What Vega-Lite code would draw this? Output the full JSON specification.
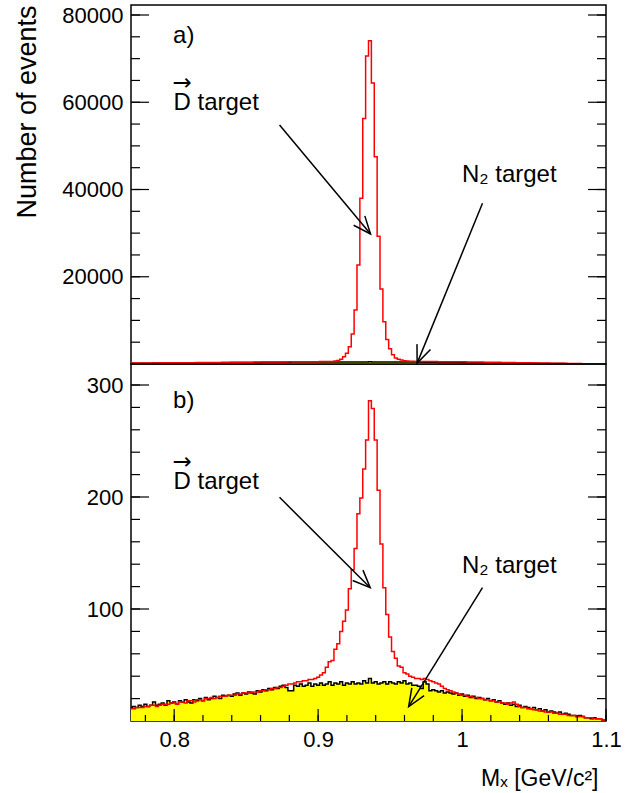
{
 "$schema": "https://vega.github.io/schema/vega-lite/v6.json",
 "padding": {"left": 12, "top": 3, "right": 5, "bottom": 0},
 "bounds": "flush",
 "spacing": 0,
 "config": {
  "view": {"stroke": "#000000", "strokeWidth": 1.5},
  "font": "Liberation Sans",
  "axis": {"grid": false, "domain": false, "labelFont": "Liberation Sans", "labelColor": "#000000", "labelFontSize": 22, "tickColor": "#000000", "titleFont": "Liberation Sans", "titleFontWeight": "normal", "titleColor": "#000000", "labelOverlap": false, "labelFlush": false}
 },
 "datasets": {
  "h": [
   {"x":0.769,"by":12,"br":11,"ty":180,"tr":230},{"x":0.771,"by":13,"br":11,"ty":185,"tr":230},{"x":0.773,"by":12,"br":12,"ty":175,"tr":235},{"x":0.775,"by":14,"br":12,"ty":190,"tr":230},{"x":0.777,"by":13,"br":12,"ty":180,"tr":240},
   {"x":0.779,"by":15,"br":13,"ty":195,"tr":235},{"x":0.781,"by":13,"br":13,"ty":200,"tr":245},{"x":0.783,"by":14,"br":14,"ty":195,"tr":250},{"x":0.785,"by":17,"br":14,"ty":210,"tr":250},{"x":0.787,"by":14,"br":13,"ty":200,"tr":255},
   {"x":0.789,"by":15,"br":14,"ty":205,"tr":260},{"x":0.791,"by":16,"br":15,"ty":220,"tr":265},{"x":0.793,"by":14,"br":15,"ty":215,"tr":270},{"x":0.795,"by":18,"br":15,"ty":230,"tr":270},{"x":0.797,"by":16,"br":16,"ty":220,"tr":275},
   {"x":0.799,"by":17,"br":16,"ty":225,"tr":280},{"x":0.801,"by":15,"br":15,"ty":240,"tr":285},{"x":0.803,"by":18,"br":17,"ty":245,"tr":290},{"x":0.805,"by":17,"br":17,"ty":235,"tr":295},{"x":0.807,"by":19,"br":16,"ty":250,"tr":300},
   {"x":0.809,"by":17,"br":18,"ty":240,"tr":305},{"x":0.811,"by":16,"br":18,"ty":260,"tr":310},{"x":0.813,"by":19,"br":17,"ty":255,"tr":315},{"x":0.815,"by":18,"br":19,"ty":265,"tr":320},{"x":0.817,"by":20,"br":19,"ty":260,"tr":325},
   {"x":0.819,"by":18,"br":18,"ty":270,"tr":330},{"x":0.821,"by":21,"br":20,"ty":280,"tr":340},{"x":0.823,"by":19,"br":20,"ty":285,"tr":345},{"x":0.825,"by":20,"br":21,"ty":275,"tr":350},{"x":0.827,"by":22,"br":20,"ty":290,"tr":355},
   {"x":0.829,"by":21,"br":21,"ty":285,"tr":360},{"x":0.831,"by":20,"br":22,"ty":310,"tr":370},{"x":0.833,"by":23,"br":22,"ty":305,"tr":375},{"x":0.835,"by":22,"br":22,"ty":315,"tr":380},{"x":0.837,"by":23,"br":23,"ty":310,"tr":385},
   {"x":0.839,"by":22,"br":23,"ty":320,"tr":390},{"x":0.841,"by":24,"br":23,"ty":330,"tr":395},{"x":0.843,"by":25,"br":24,"ty":335,"tr":400},{"x":0.845,"by":23,"br":24,"ty":325,"tr":405},{"x":0.847,"by":25,"br":25,"ty":340,"tr":410},
   {"x":0.849,"by":24,"br":25,"ty":335,"tr":415},{"x":0.851,"by":26,"br":25,"ty":360,"tr":420},{"x":0.853,"by":25,"br":26,"ty":355,"tr":425},{"x":0.855,"by":24,"br":26,"ty":365,"tr":430},{"x":0.857,"by":27,"br":26,"ty":360,"tr":435},
   {"x":0.859,"by":26,"br":27,"ty":370,"tr":440},{"x":0.861,"by":28,"br":27,"ty":390,"tr":445},{"x":0.863,"by":27,"br":28,"ty":385,"tr":450},{"x":0.865,"by":29,"br":28,"ty":395,"tr":455},{"x":0.867,"by":28,"br":29,"ty":390,"tr":460},
   {"x":0.869,"by":30,"br":29,"ty":400,"tr":465},{"x":0.871,"by":29,"br":30,"ty":420,"tr":470},{"x":0.873,"by":31,"br":30,"ty":415,"tr":475},{"x":0.875,"by":32,"br":31,"ty":425,"tr":480},{"x":0.877,"by":30,"br":32,"ty":420,"tr":485},
   {"x":0.879,"by":27,"br":33,"ty":410,"tr":490},{"x":0.881,"by":27,"br":33,"ty":430,"tr":495},{"x":0.883,"by":32,"br":34,"ty":435,"tr":500},{"x":0.885,"by":31,"br":35,"ty":430,"tr":505},{"x":0.887,"by":33,"br":35,"ty":440,"tr":510},
   {"x":0.889,"by":31,"br":36,"ty":435,"tr":515},{"x":0.891,"by":32,"br":36,"ty":450,"tr":520},{"x":0.893,"by":34,"br":37,"ty":455,"tr":525},{"x":0.895,"by":31,"br":37,"ty":445,"tr":530},{"x":0.897,"by":33,"br":38,"ty":455,"tr":535},
   {"x":0.899,"by":32,"br":39,"ty":450,"tr":540},{"x":0.901,"by":34,"br":41,"ty":470,"tr":545},{"x":0.903,"by":32,"br":43,"ty":465,"tr":550},{"x":0.905,"by":33,"br":48,"ty":475,"tr":560},{"x":0.907,"by":35,"br":53,"ty":470,"tr":575},
   {"x":0.909,"by":32,"br":54,"ty":475,"tr":600},{"x":0.911,"by":34,"br":64,"ty":470,"tr":680},{"x":0.913,"by":33,"br":69,"ty":480,"tr":790},{"x":0.915,"by":35,"br":80,"ty":470,"tr":1070},{"x":0.917,"by":32,"br":89,"ty":475,"tr":1680},
   {"x":0.919,"by":34,"br":99,"ty":470,"tr":2440},{"x":0.921,"by":33,"br":118,"ty":480,"tr":3970},{"x":0.923,"by":35,"br":135,"ty":470,"tr":6900},{"x":0.925,"by":33,"br":154,"ty":475,"tr":12400},{"x":0.927,"by":34,"br":185,"ty":480,"tr":22700},
   {"x":0.929,"by":33,"br":199,"ty":470,"tr":38000},{"x":0.931,"by":36,"br":225,"ty":485,"tr":56300},{"x":0.933,"by":34,"br":251,"ty":475,"tr":70600},{"x":0.935,"by":38,"br":286,"ty":490,"tr":74100},{"x":0.937,"by":34,"br":279,"ty":475,"tr":64400},
   {"x":0.939,"by":35,"br":251,"ty":480,"tr":47500},{"x":0.941,"by":33,"br":206,"ty":470,"tr":29300},{"x":0.943,"by":34,"br":158,"ty":475,"tr":17200},{"x":0.945,"by":35,"br":119,"ty":480,"tr":9700},{"x":0.947,"by":33,"br":95,"ty":470,"tr":5600},
   {"x":0.949,"by":35,"br":75,"ty":475,"tr":3500},{"x":0.951,"by":34,"br":62,"ty":470,"tr":2100},{"x":0.953,"by":33,"br":56,"ty":465,"tr":1400},{"x":0.955,"by":35,"br":49,"ty":475,"tr":1100},{"x":0.957,"by":34,"br":48,"ty":470,"tr":900},
   {"x":0.959,"by":36,"br":43,"ty":475,"tr":760},{"x":0.961,"by":33,"br":42,"ty":460,"tr":680},{"x":0.963,"by":34,"br":40,"ty":455,"tr":640},{"x":0.965,"by":32,"br":39,"ty":450,"tr":610},{"x":0.967,"by":32,"br":38,"ty":445,"tr":590},
   {"x":0.969,"by":31,"br":38,"ty":440,"tr":580},{"x":0.971,"by":29,"br":37,"ty":410,"tr":575},{"x":0.973,"by":35,"br":38,"ty":420,"tr":570},{"x":0.975,"by":33,"br":37,"ty":400,"tr":565},{"x":0.977,"by":27,"br":36,"ty":395,"tr":560},
   {"x":0.979,"by":28,"br":35,"ty":390,"tr":555},{"x":0.981,"by":27,"br":34,"ty":375,"tr":545},{"x":0.983,"by":26,"br":33,"ty":370,"tr":540},{"x":0.985,"by":27,"br":31,"ty":365,"tr":535},{"x":0.987,"by":25,"br":29,"ty":360,"tr":530},
   {"x":0.989,"by":26,"br":28,"ty":365,"tr":525},{"x":0.991,"by":25,"br":27,"ty":345,"tr":520},{"x":0.993,"by":24,"br":26,"ty":340,"tr":515},{"x":0.995,"by":25,"br":25,"ty":345,"tr":510},{"x":0.997,"by":23,"br":24,"ty":335,"tr":505},
   {"x":0.999,"by":24,"br":23,"ty":340,"tr":500},{"x":1.001,"by":22,"br":23,"ty":315,"tr":490},{"x":1.003,"by":23,"br":22,"ty":310,"tr":480},{"x":1.005,"by":21,"br":22,"ty":305,"tr":475},{"x":1.007,"by":22,"br":21,"ty":310,"tr":465},
   {"x":1.009,"by":20,"br":21,"ty":300,"tr":455},{"x":1.011,"by":21,"br":20,"ty":275,"tr":445},{"x":1.013,"by":20,"br":20,"ty":270,"tr":435},{"x":1.015,"by":19,"br":19,"ty":265,"tr":425},{"x":1.017,"by":20,"br":19,"ty":270,"tr":415},
   {"x":1.019,"by":18,"br":18,"ty":260,"tr":405},{"x":1.021,"by":19,"br":18,"ty":245,"tr":395},{"x":1.023,"by":17,"br":17,"ty":240,"tr":385},{"x":1.025,"by":18,"br":17,"ty":235,"tr":375},{"x":1.027,"by":16,"br":16,"ty":240,"tr":365},
   {"x":1.029,"by":15,"br":16,"ty":230,"tr":355},{"x":1.031,"by":16,"br":15,"ty":215,"tr":345},{"x":1.033,"by":14,"br":16,"ty":210,"tr":335},{"x":1.035,"by":15,"br":17,"ty":205,"tr":325},{"x":1.037,"by":13,"br":15,"ty":210,"tr":315},
   {"x":1.039,"by":14,"br":13,"ty":200,"tr":305},{"x":1.041,"by":12,"br":12,"ty":175,"tr":295},{"x":1.043,"by":13,"br":12,"ty":170,"tr":285},{"x":1.045,"by":12,"br":11,"ty":165,"tr":275},{"x":1.047,"by":11,"br":11,"ty":170,"tr":265},
   {"x":1.049,"by":12,"br":10,"ty":160,"tr":255},{"x":1.051,"by":10,"br":10,"ty":145,"tr":245},{"x":1.053,"by":11,"br":9,"ty":140,"tr":235},{"x":1.055,"by":9,"br":9,"ty":135,"tr":225},{"x":1.057,"by":10,"br":8,"ty":140,"tr":215},
   {"x":1.059,"by":8,"br":8,"ty":130,"tr":205},{"x":1.061,"by":9,"br":8,"ty":115,"tr":195},{"x":1.063,"by":8,"br":7,"ty":110,"tr":185},{"x":1.065,"by":7,"br":7,"ty":105,"tr":175},{"x":1.067,"by":8,"br":6,"ty":110,"tr":165},
   {"x":1.069,"by":6,"br":6,"ty":100,"tr":155},{"x":1.071,"by":7,"br":6,"ty":85,"tr":145},{"x":1.073,"by":6,"br":5,"ty":80,"tr":135},{"x":1.075,"by":5,"br":5,"ty":75,"tr":125},{"x":1.077,"by":5,"br":5,"ty":80,"tr":115},
   {"x":1.079,"by":4,"br":4,"ty":70,"tr":105},{"x":1.081,"by":5,"br":4,"ty":55,"tr":95},{"x":1.083,"by":4,"br":4,"ty":50,"tr":85},{"x":1.085,"by":3,"br":3,"ty":45,"tr":75},{"x":1.087,"by":3,"br":3,"ty":50,"tr":65},
   {"x":1.089,"by":2,"br":3,"ty":40,"tr":55},{"x":1.091,"by":3,"br":2,"ty":25,"tr":45},{"x":1.093,"by":2,"br":2,"ty":20,"tr":40},{"x":1.095,"by":2,"br":2,"ty":20,"tr":35},{"x":1.097,"by":1,"br":1,"ty":15,"tr":30},
   {"x":1.099,"by":1,"br":1,"ty":15,"tr":25},{"x":1.101,"by":1,"br":1,"ty":15,"tr":25}
  ],
  "annTop": [
   {"x":0.7992,"y":73583,"t":"a)"},
   {"x":0.7995,"y":58224,"t":"D target"},
   {"x":0.9999,"y":41789,"t":"N\u2082 target"}
  ],
  "vecTop": [{"x":0.8056,"y":64400}],
  "arrTop": [
   {"id":"D","x":0.8732,"y":54786,"x2":0.9364,"y2":29800},
   {"id":"N","x":1.0142,"y":36837,"x2":0.9688,"y2":200}
  ],
  "annBot": [
   {"x":0.7992,"y":279.7,"t":"b)"},
   {"x":0.7995,"y":207.1,"t":"D target"},
   {"x":0.9999,"y":131.9,"t":"N\u2082 target"}
  ],
  "vecBot": [{"x":0.8056,"y":231.0}],
  "arrBot": [
   {"id":"D","x":0.8732,"y":199.7,"x2":0.9362,"y2":119.0},
   {"id":"N","x":1.0142,"y":119.0,"x2":0.9629,"y2":12.8}
  ],
  "ytT": [
   {"v":5000,"m":0},{"v":10000,"m":0},{"v":15000,"m":0},{"v":20000,"m":1},{"v":25000,"m":0},{"v":30000,"m":0},{"v":35000,"m":0},{"v":40000,"m":1},
   {"v":45000,"m":0},{"v":50000,"m":0},{"v":55000,"m":0},{"v":60000,"m":1},{"v":65000,"m":0},{"v":70000,"m":0},{"v":75000,"m":0},{"v":80000,"m":1}
  ],
  "ytB": [
   {"v":20,"m":0},{"v":40,"m":0},{"v":60,"m":0},{"v":80,"m":0},{"v":100,"m":1},{"v":120,"m":0},{"v":140,"m":0},{"v":160,"m":0},
   {"v":180,"m":0},{"v":200,"m":1},{"v":220,"m":0},{"v":240,"m":0},{"v":260,"m":0},{"v":280,"m":0},{"v":300,"m":1}
  ],
  "xtB": [
   {"v":0.78,"m":0},{"v":0.8,"m":1},{"v":0.82,"m":0},{"v":0.84,"m":0},{"v":0.86,"m":0},{"v":0.88,"m":0},{"v":0.9,"m":1},{"v":0.92,"m":0},{"v":0.94,"m":0},
   {"v":0.96,"m":0},{"v":0.98,"m":0},{"v":1.0,"m":1},{"v":1.02,"m":0},{"v":1.04,"m":0},{"v":1.06,"m":0},{"v":1.08,"m":0},{"v":1.1,"m":1}
  ]
 },
 "vconcat": [
  {
   "width": 475, "height": 359,
   "layer": [
    {"data": {"name": "h"}, "mark": {"type": "area", "interpolate": "step-after", "fill": "#ffff00", "clip": true},
     "encoding": {
      "x": {"field": "x", "type": "quantitative", "scale": {"domain": [0.77, 1.1], "nice": false, "zero": false}, "axis": null},
      "y": {"field": "ty", "type": "quantitative", "scale": {"domain": [0, 82294], "nice": false},
       "axis": {"orient": "left", "values": [20000, 40000, 60000, 80000], "format": "d", "ticks": false, "labelPadding": 8,
        "title": "Number of events", "titleFontSize": 27, "titleAngle": -90, "titleAlign": "right", "titleBaseline": "alphabetic", "titleX": -96, "titleY": 0}}}},
    {"data": {"name": "h"}, "mark": {"type": "line", "interpolate": "step-after", "stroke": "#000000", "strokeWidth": 1.5, "clip": true},
     "encoding": {"x": {"field": "x", "type": "quantitative", "axis": null}, "y": {"field": "ty", "type": "quantitative", "axis": null}}},
    {"data": {"name": "h"}, "mark": {"type": "line", "interpolate": "step-after", "stroke": "#ff0000", "strokeWidth": 1.5, "clip": true},
     "encoding": {"x": {"field": "x", "type": "quantitative", "axis": null}, "y": {"field": "tr", "type": "quantitative", "axis": null}}},
    {"data": {"name": "arrTop"}, "mark": {"type": "rule", "stroke": "#000000", "strokeWidth": 1.5},
     "encoding": {"x": {"field": "x", "type": "quantitative", "axis": null}, "x2": {"field": "x2"}, "y": {"field": "y", "type": "quantitative", "axis": null}, "y2": {"field": "y2"}}},
    {"data": {"name": "arrTop"}, "transform": [{"filter": "datum.id == 'D'"}],
     "mark": {"type": "point", "shape": "M-0.383,0.924L0,0L0.383,0.924", "filled": false, "fill": null, "stroke": "#000000", "strokeWidth": 1.5, "size": 1444, "angle": 140, "opacity": 1},
     "encoding": {"x": {"field": "x2", "type": "quantitative", "axis": null}, "y": {"field": "y2", "type": "quantitative", "axis": null}}},
    {"data": {"name": "arrTop"}, "transform": [{"filter": "datum.id == 'N'"}],
     "mark": {"type": "point", "shape": "M-0.383,0.924L0,0L0.383,0.924", "filled": false, "fill": null, "stroke": "#000000", "strokeWidth": 1.5, "size": 1444, "angle": 202, "opacity": 1},
     "encoding": {"x": {"field": "x2", "type": "quantitative", "axis": null}, "y": {"field": "y2", "type": "quantitative", "axis": null}}},
    {"data": {"name": "annTop"}, "mark": {"type": "text", "align": "left", "baseline": "alphabetic", "fontSize": 24, "font": "Liberation Sans", "color": "#000000"},
     "encoding": {"x": {"field": "x", "type": "quantitative", "axis": null}, "y": {"field": "y", "type": "quantitative", "axis": null}, "text": {"field": "t"}}},
    {"data": {"name": "vecTop"}, "mark": {"type": "text", "text": "\u2192", "align": "center", "baseline": "middle", "fontSize": 23, "font": "DejaVu Sans", "color": "#000000"},
     "encoding": {"x": {"field": "x", "type": "quantitative", "axis": null}, "y": {"field": "y", "type": "quantitative", "axis": null}}},
    {"data": {"name": "ytT"}, "transform": [{"filter": "datum.m == 1"}],
     "mark": {"type": "tick", "orient": "horizontal", "size": 18, "thickness": 1.2, "xOffset": 9, "color": "#000000", "opacity": 1},
     "encoding": {"x": {"datum": 0.77, "type": "quantitative", "axis": null}, "y": {"field": "v", "type": "quantitative", "axis": null}}},
    {"data": {"name": "ytT"},
     "mark": {"type": "tick", "orient": "horizontal", "size": 9, "thickness": 1.2, "xOffset": 4.5, "color": "#000000", "opacity": 1},
     "encoding": {"x": {"datum": 0.77, "type": "quantitative", "axis": null}, "y": {"field": "v", "type": "quantitative", "axis": null}}},
    {"data": {"name": "ytT"}, "transform": [{"filter": "datum.m == 1"}],
     "mark": {"type": "tick", "orient": "horizontal", "size": 18, "thickness": 1.2, "xOffset": -9, "color": "#000000", "opacity": 1},
     "encoding": {"x": {"datum": 1.1, "type": "quantitative", "axis": null}, "y": {"field": "v", "type": "quantitative", "axis": null}}},
    {"data": {"name": "ytT"},
     "mark": {"type": "tick", "orient": "horizontal", "size": 9, "thickness": 1.2, "xOffset": -4.5, "color": "#000000", "opacity": 1},
     "encoding": {"x": {"datum": 1.1, "type": "quantitative", "axis": null}, "y": {"field": "v", "type": "quantitative", "axis": null}}}
   ],
   "resolve": {"axis": {"x": "independent", "y": "independent"}}
  },
  {
   "width": 475, "height": 357,
   "layer": [
    {"data": {"name": "h"}, "mark": {"type": "area", "interpolate": "step-after", "fill": "#ffff00", "clip": true},
     "encoding": {
      "x": {"field": "x", "type": "quantitative", "scale": {"domain": [0.77, 1.1], "nice": false, "zero": false},
       "axis": {"orient": "bottom", "values": [0.8, 0.9, 1, 1.1], "format": "~g", "ticks": false, "labelPadding": 8,
        "title": "M\u2093 [GeV/c\u00b2]", "titleFontSize": 23, "titleAlign": "right", "titleBaseline": "alphabetic", "titleX": 467, "titleY": 64}},
      "y": {"field": "by", "type": "quantitative", "scale": {"domain": [0, 318.75], "nice": false},
       "axis": {"orient": "left", "values": [100, 200, 300], "format": "d", "ticks": false, "labelPadding": 8, "title": null}}}},
    {"data": {"name": "h"}, "mark": {"type": "line", "interpolate": "step-after", "stroke": "#000000", "strokeWidth": 1.5, "clip": true},
     "encoding": {"x": {"field": "x", "type": "quantitative", "axis": null}, "y": {"field": "by", "type": "quantitative", "axis": null}}},
    {"data": {"name": "h"}, "mark": {"type": "line", "interpolate": "step-after", "stroke": "#ff0000", "strokeWidth": 1.5, "clip": true},
     "encoding": {"x": {"field": "x", "type": "quantitative", "axis": null}, "y": {"field": "br", "type": "quantitative", "axis": null}}},
    {"data": {"name": "arrBot"}, "mark": {"type": "rule", "stroke": "#000000", "strokeWidth": 1.5},
     "encoding": {"x": {"field": "x", "type": "quantitative", "axis": null}, "x2": {"field": "x2"}, "y": {"field": "y", "type": "quantitative", "axis": null}, "y2": {"field": "y2"}}},
    {"data": {"name": "arrBot"}, "transform": [{"filter": "datum.id == 'D'"}],
     "mark": {"type": "point", "shape": "M-0.383,0.924L0,0L0.383,0.924", "filled": false, "fill": null, "stroke": "#000000", "strokeWidth": 1.5, "size": 1444, "angle": 135, "opacity": 1},
     "encoding": {"x": {"field": "x2", "type": "quantitative", "axis": null}, "y": {"field": "y2", "type": "quantitative", "axis": null}}},
    {"data": {"name": "arrBot"}, "transform": [{"filter": "datum.id == 'N'"}],
     "mark": {"type": "point", "shape": "M-0.383,0.924L0,0L0.383,0.924", "filled": false, "fill": null, "stroke": "#000000", "strokeWidth": 1.5, "size": 1444, "angle": 212, "opacity": 1},
     "encoding": {"x": {"field": "x2", "type": "quantitative", "axis": null}, "y": {"field": "y2", "type": "quantitative", "axis": null}}},
    {"data": {"name": "annBot"}, "mark": {"type": "text", "align": "left", "baseline": "alphabetic", "fontSize": 24, "font": "Liberation Sans", "color": "#000000"},
     "encoding": {"x": {"field": "x", "type": "quantitative", "axis": null}, "y": {"field": "y", "type": "quantitative", "axis": null}, "text": {"field": "t"}}},
    {"data": {"name": "vecBot"}, "mark": {"type": "text", "text": "\u2192", "align": "center", "baseline": "middle", "fontSize": 23, "font": "DejaVu Sans", "color": "#000000"},
     "encoding": {"x": {"field": "x", "type": "quantitative", "axis": null}, "y": {"field": "y", "type": "quantitative", "axis": null}}},
    {"data": {"name": "ytB"}, "transform": [{"filter": "datum.m == 1"}],
     "mark": {"type": "tick", "orient": "horizontal", "size": 18, "thickness": 1.2, "xOffset": 9, "color": "#000000", "opacity": 1},
     "encoding": {"x": {"datum": 0.77, "type": "quantitative", "axis": null}, "y": {"field": "v", "type": "quantitative", "axis": null}}},
    {"data": {"name": "ytB"},
     "mark": {"type": "tick", "orient": "horizontal", "size": 9, "thickness": 1.2, "xOffset": 4.5, "color": "#000000", "opacity": 1},
     "encoding": {"x": {"datum": 0.77, "type": "quantitative", "axis": null}, "y": {"field": "v", "type": "quantitative", "axis": null}}},
    {"data": {"name": "ytB"}, "transform": [{"filter": "datum.m == 1"}],
     "mark": {"type": "tick", "orient": "horizontal", "size": 18, "thickness": 1.2, "xOffset": -9, "color": "#000000", "opacity": 1},
     "encoding": {"x": {"datum": 1.1, "type": "quantitative", "axis": null}, "y": {"field": "v", "type": "quantitative", "axis": null}}},
    {"data": {"name": "ytB"},
     "mark": {"type": "tick", "orient": "horizontal", "size": 9, "thickness": 1.2, "xOffset": -4.5, "color": "#000000", "opacity": 1},
     "encoding": {"x": {"datum": 1.1, "type": "quantitative", "axis": null}, "y": {"field": "v", "type": "quantitative", "axis": null}}},
    {"data": {"name": "xtB"}, "transform": [{"filter": "datum.m == 1"}],
     "mark": {"type": "tick", "orient": "vertical", "size": 12, "thickness": 1.2, "yOffset": -6, "color": "#000000", "opacity": 1},
     "encoding": {"x": {"field": "v", "type": "quantitative", "axis": null}, "y": {"datum": 0, "type": "quantitative", "axis": null}}},
    {"data": {"name": "xtB"},
     "mark": {"type": "tick", "orient": "vertical", "size": 6, "thickness": 1.2, "yOffset": -3, "color": "#000000", "opacity": 1},
     "encoding": {"x": {"field": "v", "type": "quantitative", "axis": null}, "y": {"datum": 0, "type": "quantitative", "axis": null}}}
   ],
   "resolve": {"axis": {"x": "independent", "y": "independent"}}
  }
 ]
}
